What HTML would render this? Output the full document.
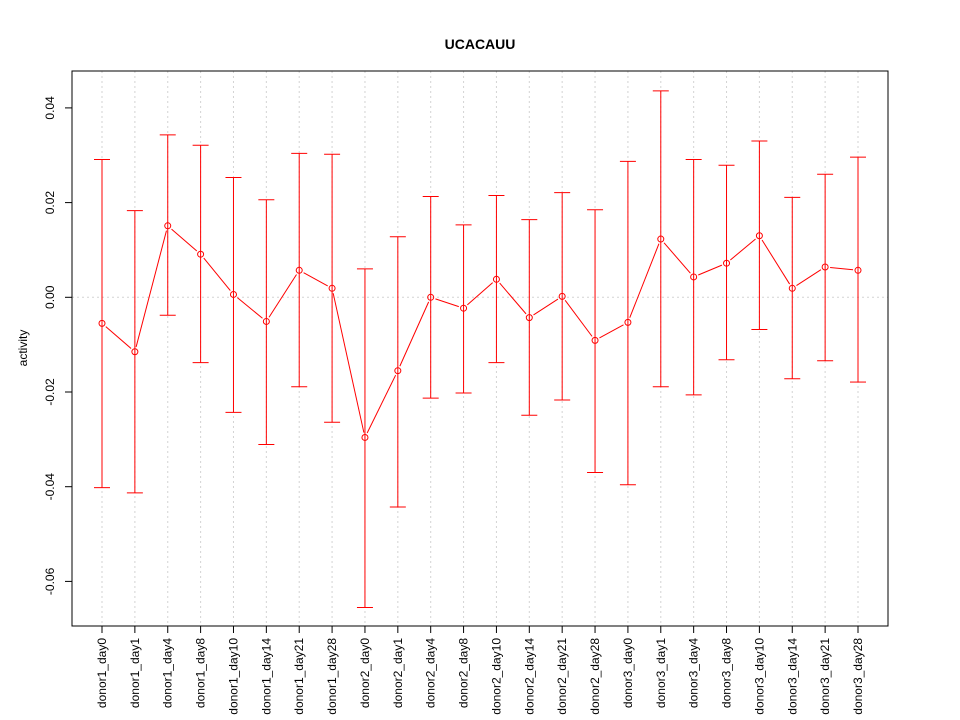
<!DOCTYPE html>
<html><head><meta charset="utf-8"><style>body{margin:0;background:#fff}svg{display:block}text{font-family:"Liberation Sans",sans-serif}</style></head>
<body>
<svg id="chart" width="960" height="720" xmlns="http://www.w3.org/2000/svg"></svg>
<script>
const categories=["donor1_day0","donor1_day1","donor1_day4","donor1_day8","donor1_day10","donor1_day14","donor1_day21","donor1_day28","donor2_day0","donor2_day1","donor2_day4","donor2_day8","donor2_day10","donor2_day14","donor2_day21","donor2_day28","donor3_day0","donor3_day1","donor3_day4","donor3_day8","donor3_day10","donor3_day14","donor3_day21","donor3_day28"];
const means=[-0.0055,-0.0115,0.0151,0.0091,0.0006,-0.0051,0.0057,0.0019,-0.0296,-0.0155,0.0,-0.0023,0.0038,-0.0043,0.0002,-0.0091,-0.0053,0.0123,0.0043,0.0072,0.013,0.0019,0.0064,0.0057];
const uppers=[0.0291,0.0183,0.0343,0.0321,0.0253,0.0206,0.0304,0.0302,0.006,0.0128,0.0213,0.0153,0.0215,0.0164,0.0221,0.0185,0.0287,0.0436,0.0291,0.0279,0.033,0.0211,0.026,0.0296];
const lowers=[-0.0402,-0.0413,-0.0038,-0.0138,-0.0243,-0.0311,-0.0189,-0.0264,-0.0655,-0.0443,-0.0213,-0.0202,-0.0138,-0.0249,-0.0217,-0.037,-0.0396,-0.0189,-0.0206,-0.0132,-0.0068,-0.0172,-0.0134,-0.0179];
const yTicks=[-0.06,-0.04,-0.02,0.00,0.02,0.04];
const yTickLabels=["-0.06","-0.04","-0.02","0.00","0.02","0.04"];
const svg=document.getElementById('chart');
const NS="http://www.w3.org/2000/svg";
const L=72,R=888,T=71,B=626;
const x=i=>102+i*(858-102)/(categories.length-1);
const y=v=>297.3-v*4735;
function mk(tag,attrs,parent){const e=document.createElementNS(NS,tag);for(const k in attrs)e.setAttribute(k,attrs[k]);(parent||svg).appendChild(e);return e;}
categories.forEach((c,i)=>{const g=mk('line',{x1:x(i),x2:x(i),y1:T,y2:B,stroke:'#d3d3d3','stroke-dasharray':'2,3'});

});
const zl=mk('line',{x1:L,x2:R,y1:y(0),y2:y(0),stroke:'#d3d3d3','stroke-dasharray':'2,3'});


yTicks.forEach((v,i)=>{
const t=mk('line',{x1:L-7,x2:L,y1:y(v),y2:y(v),stroke:'#000'});


const tx=mk('text',{x:0,y:0,'font-size':12,'text-anchor':'middle',transform:`translate(${L-18},${y(v)}) rotate(-90)`});
tx.textContent=yTickLabels[i];

});
categories.forEach((c,i)=>{const g=mk('g',{stroke:'#ff0000','stroke-width':1});


mk('line',{x1:x(i),x2:x(i),y1:y(uppers[i]),y2:y(lowers[i])},g);
mk('line',{x1:x(i)-8,x2:x(i)+8,y1:y(uppers[i]),y2:y(uppers[i])},g);
mk('line',{x1:x(i)-8,x2:x(i)+8,y1:y(lowers[i]),y2:y(lowers[i])},g);
const t=mk('line',{x1:x(i),x2:x(i),y1:B,y2:B+7,stroke:'#000'});


const tx=mk('text',{x:0,y:0,'font-size':12,'text-anchor':'end',transform:`translate(${x(i)+4},${B+12}) rotate(-90)`});
tx.textContent=c;

});
for(let i=0;i<means.length-1;i++){const x1=x(i),y1=y(means[i]),x2=x(i+1),y2=y(means[i+1]);const d=Math.hypot(x2-x1,y2-y1),g=5;if(d<=2*g)continue;const ux=(x2-x1)/d,uy=(y2-y1)/d;
const s=mk('line',{x1:x1+ux*g,y1:y1+uy*g,x2:x2-ux*g,y2:y2-uy*g,stroke:'#ff0000'});

}
means.forEach((m,i)=>{const c=mk('circle',{cx:x(i),cy:y(m),r:3,fill:'none',stroke:'#ff0000'});

});
const box=mk('rect',{x:L,y:T,width:R-L,height:B-T,fill:'none',stroke:'#000'});


const title=mk('text',{x:480,y:49,'font-size':14,'font-weight':'bold','text-anchor':'middle'});title.textContent='UCACAUU';


const yl=mk('text',{x:0,y:0,'font-size':12,'text-anchor':'middle',transform:'translate(27,348) rotate(-90)'});yl.textContent='activity';


</script>
</body></html>
